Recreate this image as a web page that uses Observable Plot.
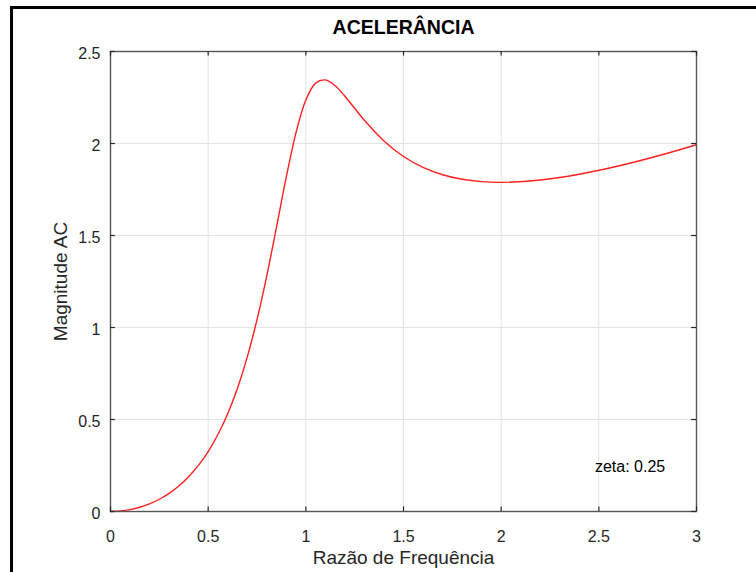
<!DOCTYPE html>
<html><head><meta charset="utf-8">
<script src="https://cdn.jsdelivr.net/npm/d3@7"></script>
<script src="https://cdn.jsdelivr.net/npm/@observablehq/plot@0.6"></script>
<style>
html,body{margin:0;padding:0;background:#fff;}
#wrap{position:relative;width:756px;height:572px;overflow:hidden;}
#border{position:absolute;left:10px;top:6px;width:900px;height:900px;border-left:3px solid #000;border-top:3px solid #000;pointer-events:none;}
#wrap svg{position:absolute;left:0;top:0;}
</style></head><body><div id="wrap"><div id="border"></div></div>
<script>
const ratio = [0,0.05,0.1,0.15,0.2,0.25,0.3,0.35,0.4,0.45,0.5,0.55,0.6,0.65,0.7,0.75,0.8,0.85,0.9,0.95,1.0,1.05,1.1,1.15,1.2,1.25,1.3,1.4,1.5,1.6,1.7,1.8,1.9,2.0,2.2,2.4,2.6,2.8,3.0];
const magnitude = [0,0.0025,0.0101,0.0230,0.0417,0.0666,0.0987,0.1390,0.1890,0.2505,0.3260,0.4185,0.5318,0.6704,0.8393,1.0426,1.2809,1.5467,1.8184,2.0605,2.2361,2.3279,2.3456,2.3140,2.2570,2.1913,2.1263,2.0137,1.9294,1.8700,1.8303,1.8057,1.7927,1.7889,1.8013,1.8329,1.8776,1.9320,1.9934];
const xTicks = [0,0.5,1,1.5,2,2.5,3];
const yTicks = [0,0.5,1,1.5,2,2.5];
const titleText = "ACELERÂNCIA";
const xLabel = "Razão de Frequência";
const yLabel = "Magnitude AC";
const annotation = "zeta: 0.25";
const annX = 2.48, annY = 0.24;

const data = ratio.map((r, i) => ({r, m: magnitude[i]}));
const ink = "#262626";
const axisInk = "#555";
const font = "'Liberation Sans', Arial, Helvetica, sans-serif";

const chart = Plot.plot({
  width: 756, height: 572,
  marginLeft: 110, marginRight: 60, marginTop: 51, marginBottom: 61,
  style: {fontFamily: font, fontSize: "16px", background: "transparent", overflow: "visible"},
  x: {domain: [0, 3], axis: null},
  y: {domain: [0, 2.5], axis: null},
  marks: [
    Plot.ruleX(xTicks, {x: d => d, stroke: "#e3e3e3", strokeWidth: 1}),
    Plot.ruleY(yTicks, {y: d => d, stroke: "#e3e3e3", strokeWidth: 1}),
    Plot.line(data, {x: "r", y: "m", stroke: "#ff2020", strokeWidth: 1.4, curve: "catmull-rom"}),
    Plot.frame({stroke: axisInk, strokeWidth: 1.4}),
    // inward ticks
    Plot.ruleX(xTicks, {x: d => d, y1: 0, y2: 0.025, stroke: ink, strokeWidth: 1.2}),
    Plot.ruleX(xTicks, {x: d => d, y1: 2.5, y2: 2.475, stroke: ink, strokeWidth: 1.2}),
    Plot.ruleY(yTicks, {y: d => d, x1: 0, x2: 0.025, stroke: ink, strokeWidth: 1.2}),
    Plot.ruleY(yTicks, {y: d => d, x1: 3, x2: 2.975, stroke: ink, strokeWidth: 1.2}),
    // tick labels
    Plot.text(xTicks, {x: d => d, frameAnchor: "bottom", lineAnchor: "middle", textAnchor: "middle", dy: 25, text: d => String(d), fill: ink, fontSize: 16}),
    Plot.text(yTicks, {y: d => d, frameAnchor: "left", lineAnchor: "middle", dx: -10, dy: 2, textAnchor: "end", text: d => String(d), fill: ink, fontSize: 16}),
    // labels
    Plot.text([xLabel], {frameAnchor: "bottom", lineAnchor: "middle", textAnchor: "middle", dy: 46, text: d => d, fill: ink, fontSize: 19}),
    Plot.text([yLabel], {frameAnchor: "left", lineAnchor: "middle", textAnchor: "middle", dx: -50, rotate: -90, text: d => d, fill: ink, fontSize: 19}),
    Plot.text([titleText], {frameAnchor: "top", lineAnchor: "middle", textAnchor: "middle", dy: -24, text: d => d, fill: "#000", fontSize: 19.5, fontWeight: "bold"}),
    Plot.text([annotation], {x: () => annX, y: () => annY, lineAnchor: "middle", textAnchor: "start", text: d => d, fill: "#000", fontSize: 16})
  ]
});
document.getElementById("wrap").appendChild(chart);
</script>
</body></html>
